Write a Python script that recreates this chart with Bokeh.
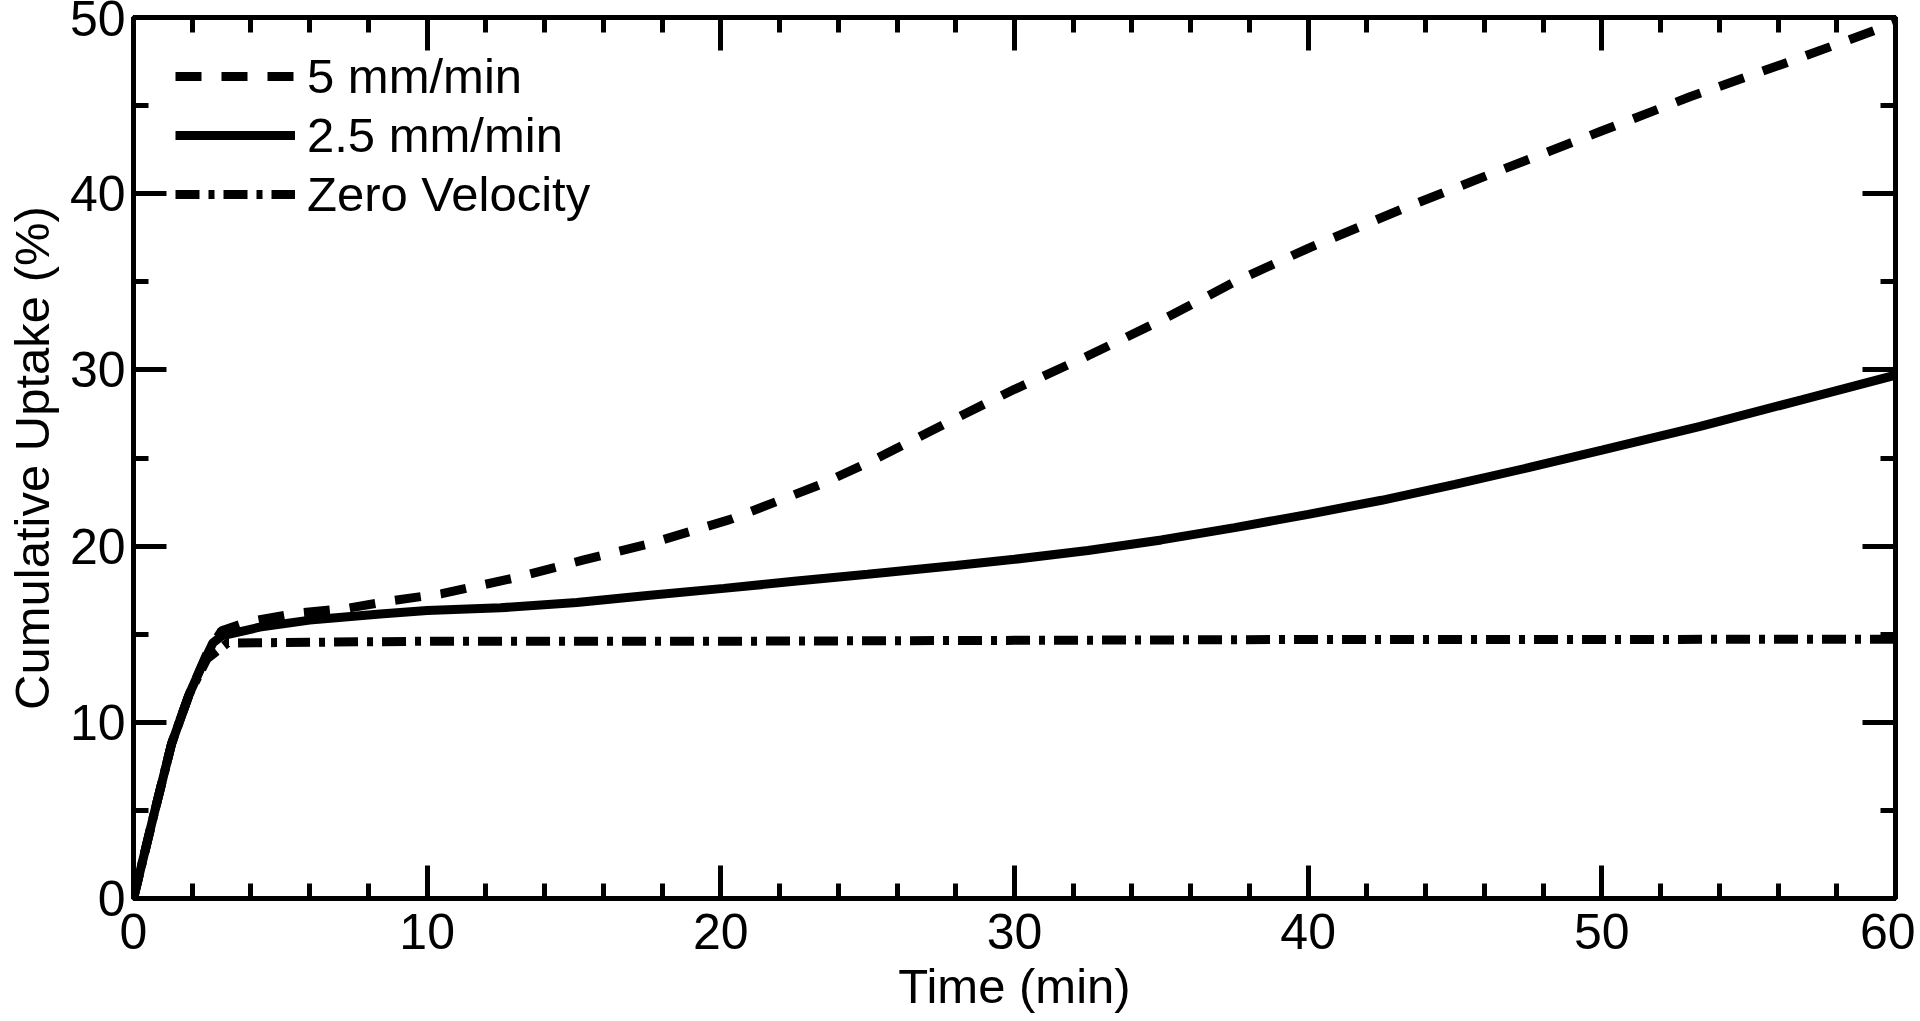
from bokeh.plotting import figure
from bokeh.models import (Range1d, LinearAxis, SingleIntervalTicker, Legend, LegendItem,
                          CustomJSTickFormatter)
from bokeh.embed import file_html
from bokeh.resources import INLINE

# ---- data ----
t_5 = [0, 0.7, 1.3, 1.9, 2.5, 3.0, 3.9, 5.6, 7.2, 8.8, 10.5, 13, 15.3, 17.5, 20.3,
       23.4, 25.1, 28.3, 30, 32.5, 35.1, 37.5, 40, 43.3, 46.5, 49.9, 53, 56.4, 60]
v_5 = [0, 4.8, 8.8, 11.6, 13.9, 15.2, 15.7, 16.2, 16.45, 16.9, 17.3, 18.2, 19.2, 20.1, 21.5,
       23.5, 24.8, 27.5, 28.9, 30.8, 32.9, 35.0, 36.9, 39.2, 41.3, 43.5, 45.5, 47.5, 49.7]

t_25 = [0, 0.7, 1.3, 1.9, 2.3, 2.7, 3.0, 4.3, 6, 8.4, 10, 12.5, 15.1, 17.5, 20.1,
        22.5, 25, 28, 30, 32.5, 35, 37.5, 40, 42.5, 45, 47.5, 50, 53.35, 56.8, 60]
v_25 = [0, 4.8, 8.8, 11.6, 13.1, 14.5, 14.9, 15.4, 15.8, 16.15, 16.35, 16.5, 16.8, 17.2, 17.6,
        18.0, 18.4, 18.9, 19.25, 19.75, 20.35, 21.05, 21.8, 22.6, 23.5, 24.45, 25.45, 26.8, 28.3, 29.7]

t_0 = [0, 0.7, 1.3, 1.9, 2.5, 3.2, 10, 20, 30, 40, 50, 60]
v_0 = [0, 4.8, 8.8, 11.6, 13.6, 14.5, 14.6, 14.6, 14.65, 14.7, 14.7, 14.72]

labels = ["5 mm/min", "2.5 mm/min", "Zero Velocity"]
x_label = "Time (min)"
y_label = "Cumulative Uptake (%)"

FONT = "Liberation Sans"

p = figure(frame_width=1762, frame_height=881,
           x_range=Range1d(0, 60), y_range=Range1d(0, 50),
           output_backend="svg", toolbar_location=None,
           min_border_left=133, min_border_right=20, min_border_top=17, min_border_bottom=115,
           x_axis_label=x_label, y_axis_label=y_label)
p.grid.visible = False
p.background_fill_color = "white"
p.border_fill_color = "white"
p.outline_line_color = "black"
p.outline_line_width = 5

def style_axis(ax, interval, minor, show_labels=True):
    ax.ticker = SingleIntervalTicker(interval=interval, num_minor_ticks=minor)
    ax.axis_line_color = "black"
    ax.axis_line_width = 5
    ax.major_tick_line_width = 5
    ax.minor_tick_line_width = 5
    ax.major_tick_line_color = "black"
    ax.minor_tick_line_color = "black"
    ax.major_tick_in = 33
    ax.major_tick_out = 0
    ax.minor_tick_in = 15
    ax.minor_tick_out = 0
    ax.major_label_text_font = FONT
    ax.major_label_text_color = "black"
    if show_labels:
        ax.major_label_text_font_size = "50px"
        ax.major_label_standoff = 12
    else:
        ax.formatter = CustomJSTickFormatter(code="return ''")
        ax.major_label_text_font_size = "1px"
        ax.major_label_standoff = 0
    ax.axis_label_text_font = FONT
    ax.axis_label_text_font_size = "49px"
    ax.axis_label_text_font_style = "normal"
    ax.axis_label_text_color = "black"

style_axis(p.xaxis[0], 10, 5)
style_axis(p.yaxis[0], 10, 2)
p.xaxis[0].major_label_standoff = 15
p.xaxis[0].axis_label_standoff = 7
p.yaxis[0].major_label_standoff = 8
p.yaxis[0].axis_label_standoff = 8

top_ax = LinearAxis()
style_axis(top_ax, 10, 5, show_labels=False)
p.add_layout(top_ax, "above")
right_ax = LinearAxis()
style_axis(right_ax, 10, 2, show_labels=False)
p.add_layout(right_ax, "right")

r5 = p.line(t_5, v_5, line_color="black", line_width=9, line_dash="26 20")
r25 = p.line(t_25, v_25, line_color="black", line_width=9)
r0 = p.line(t_0, v_0, line_color="black", line_width=9, line_dash="24 9 6 9")

legend = Legend(items=[LegendItem(label=labels[0], renderers=[r5]),
                       LegendItem(label=labels[1], renderers=[r25]),
                       LegendItem(label=labels[2], renderers=[r0])],
                location=(42, 676), padding=0, margin=0, spacing=3,
                glyph_width=120, glyph_height=20, label_standoff=12,
                label_text_font=FONT, label_text_font_size="49px",
                label_text_color="black",
                background_fill_alpha=0, border_line_alpha=0)
p.add_layout(legend, "center")

open("out.html", "w").write(file_html(p, INLINE))
